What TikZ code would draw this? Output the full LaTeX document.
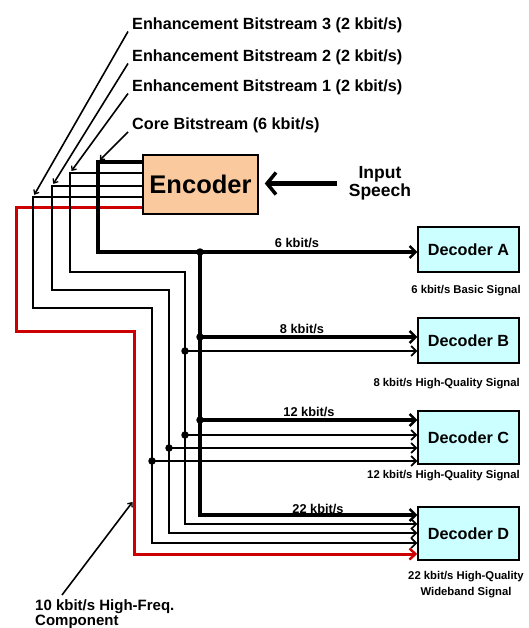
\documentclass[tikz,border=0pt]{standalone}
\usepackage{fontspec}
\setmainfont{Liberation Sans}
\usetikzlibrary{arrows.meta,calc}
\definecolor{encfill}{RGB}{250,202,158}
\definecolor{decfill}{RGB}{204,255,255}
\definecolor{sigred}{RGB}{204,0,0}
\tikzset{
  box/.style={draw=black, line width=1.5pt, inner sep=0pt},
  decbox/.style={box, fill=decfill, minimum width=101pt, font=\bfseries\fontsize{16.2}{18}\selectfont},
  dot/.style={circle, fill=black, minimum size=7.5pt, inner sep=0pt},
  toplbl/.style={font=\bfseries\fontsize{16.2}{18}\selectfont, inner sep=0pt},
  ratelbl/.style={font=\bfseries\fontsize{12.8}{14}\selectfont, inner sep=0pt},
  caplbl/.style={font=\bfseries\fontsize{11.3}{16}\selectfont, inner sep=0pt},
  bus/.style={line width=4pt, -{Straight Barb[length=6pt,width=12pt,line width=2.4pt]}},
  sig/.style={line width=1.8pt, -{Straight Barb[length=5pt,width=10pt,line width=1.6pt]}},
  redsig/.style={line width=3pt, draw=sigred, -{Straight Barb[length=6pt,width=11pt,line width=2.4pt]}},
  leader/.style={line width=1.6pt, -{Straight Barb[length=3.5pt,width=6pt,line width=1.3pt]}, shorten >=2.5pt}
}
\begin{document}
\begin{tikzpicture}[x=1pt,y=-1pt]
\fill[white] (0,0) rectangle (528,628);
\useasboundingbox (0,0) rectangle (528,628);

% blocks
\node[box, fill=encfill, minimum width=115pt, minimum height=59pt,
      font=\bfseries\fontsize{25.5}{28}\selectfont] (enc) at (200.5,184.5) {Encoder};
\node[decbox, minimum height=45pt] (decA) at (468.5,249.5) {Decoder A};
\node[decbox, minimum height=45pt] (decB) at (468.5,340.5) {Decoder B};
\node[decbox, minimum height=53pt] (decC) at (468.5,437.5) {Decoder C};
\node[decbox, minimum height=53pt] (decD) at (468.5,533.5) {Decoder D};

% routing points
\coordinate (cCore) at (98,162);
\coordinate (cE1) at (70,173);
\coordinate (cE2) at (52,186);
\coordinate (cE3) at (33,197);
\coordinate (cR) at (16,208);
\coordinate (pA) at (200,252);
\coordinate (pB1) at (200,337);
\coordinate (pB2) at (185,351);
\coordinate (pC1) at (200,420);
\coordinate (pC2) at (185,435);
\coordinate (pC3) at (169,448);
\coordinate (pC4) at (152,461);
\coordinate (pD1) at (200,515);
\coordinate (pD2) at (185,524);
\coordinate (pD3) at (169,533);
\coordinate (pD4) at (152,543);
\coordinate (pD5) at (134,554);
\coordinate (cHF) at (134,500);

% red high-frequency component
\draw[redsig] (enc.west |- cR) -- (cR) -- (16,331) -- (134,331) -- (pD5) -- (pD5 -| decD.west);
% enhancement bitstreams
\draw[sig] (enc.west |- cE3) -- (cE3) -- (33,308) -- (152,308) -- (pD4) -- (pD4 -| decD.west);
\draw[sig] (enc.west |- cE2) -- (cE2) -- (52,290) -- (169,290) -- (pD3) -- (pD3 -| decD.west);
\draw[sig] (enc.west |- cE1) -- (cE1) -- (70,272) -- (185,272) -- (pD2) -- (pD2 -| decD.west);
% core bitstream
\draw[bus] (enc.west |- cCore) -- (cCore) -- (cCore |- pA) -- (pA -| decA.west);
\draw[bus] (pA) -- (pD1) -- (pD1 -| decD.west);
% branches
\draw[bus] (pB1) -- (pB1 -| decB.west);
\draw[sig] (pB2) -- (pB2 -| decB.west);
\draw[bus] (pC1) -- (pC1 -| decC.west);
\draw[sig] (pC2) -- (pC2 -| decC.west);
\draw[sig] (pC3) -- (pC3 -| decC.west);
\draw[sig] (pC4) -- (pC4 -| decC.west);

% junction dots
\node[dot] (dA) at (pA) {};
\node[dot] (dB1) at (pB1) {};
\node[dot] (dB2) at (pB2) {};
\node[dot] (dC1) at (pC1) {};
\node[dot] (dC2) at (pC2) {};
\node[dot] (dC3) at (pC3) {};
\node[dot] (dC4) at (pC4) {};

% input speech
\node[font=\bfseries\fontsize{17.5}{18.5}\selectfont, align=center, inner sep=0pt] (inp) at (380,183.5) {Input\\Speech};
\draw[line width=4.5pt, -{Straight Barb[length=9pt,width=22pt,line width=3.5pt]}, shorten <=12pt, shorten >=6pt] (inp.west) -- (inp.west -| enc.east);

% top labels with leaders
\node[toplbl, anchor=base west] (l3) at (132,29.5) {Enhancement Bitstream 3 (2 kbit/s)};
\node[toplbl, anchor=base west] (l2) at (132,61.5) {Enhancement Bitstream 2 (2 kbit/s)};
\node[toplbl, anchor=base west] (l1) at (132,91.5) {Enhancement Bitstream 1 (2 kbit/s)};
\node[toplbl, anchor=base west] (l0) at (132,130) {Core Bitstream (6 kbit/s)};
\draw[leader] ([shift={(-4pt,-2pt)}]l3.base west) -- (cE3);
\draw[leader] ([shift={(-4pt,-2pt)}]l2.base west) -- (cE2);
\draw[leader] ([shift={(-4pt,-2pt)}]l1.base west) -- (cE1);
\draw[leader] ([shift={(-4pt,-2pt)}]l0.base west) -- (cCore);

% rate labels
\node[ratelbl] (t6) at (297,243) {6 kbit/s};
\node[ratelbl] (t8) at (302,329) {8 kbit/s};
\node[ratelbl] (t12) at (309,412) {12 kbit/s};
\node[ratelbl] (t22) at (318,509) {22 kbit/s};

% captions
\node[caplbl] (capA) at (466,291) {6 kbit/s Basic Signal};
\node[caplbl, anchor=east] (capB) at (520,384) {8 kbit/s High-Quality Signal};
\node[caplbl, anchor=east] (capC) at (520,476) {12 kbit/s High-Quality Signal};
\node[caplbl, align=center] (capD) at (466,585) {22 kbit/s High-Quality\\Wideband Signal};

% high frequency label
\node[font=\bfseries\fontsize{15}{15}\selectfont, align=left, inner sep=0pt, anchor=north west] (hf) at (35,599) {10 kbit/s High-Freq.\\Component};
\draw[leader] ([shift={(27pt,4pt)}]hf.north west) -- (cHF);
\end{tikzpicture}
\end{document}
